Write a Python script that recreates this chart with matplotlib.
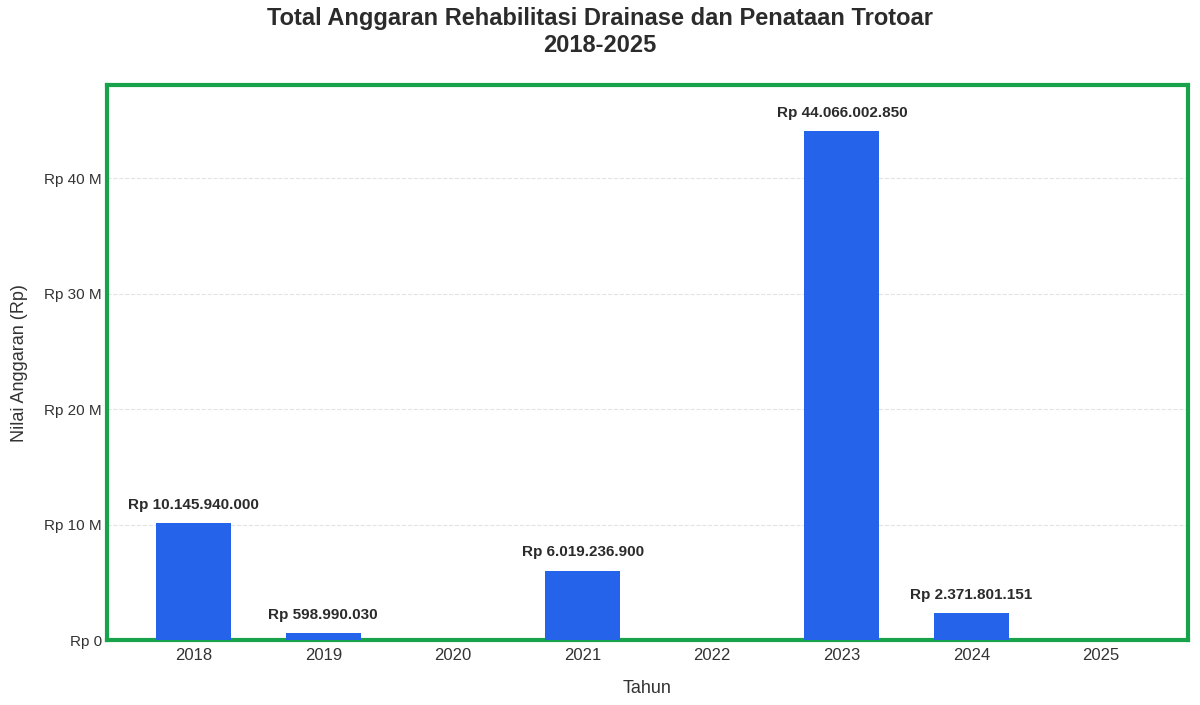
import numpy as np
import matplotlib.pyplot as plt
from matplotlib.ticker import FuncFormatter

plt.rcParams['font.family'] = ['Liberation Sans', 'DejaVu Sans']

tahun = ['2018', '2019', '2020', '2021', '2022', '2023', '2024', '2025']
anggaran = [10145940000, 598990030, 0, 6019236900, 0, 44066002850, 2371801151, 0]


def rupiah(v):
    return 'Rp ' + '{:,.0f}'.format(v).replace(',', '.')


fig = plt.figure(figsize=(12, 7.05), dpi=100)
ax = fig.add_axes([0.089, 0.092, 0.901, 0.787])

x = np.arange(len(tahun))
ax.bar(x, anggaran, width=0.58, color='#2563EB', zorder=3)
for xi, v in zip(x, anggaran):
    if v > 0:
        ax.annotate(rupiah(v), (xi, v), xytext=(0, 8), textcoords='offset points',
                    ha='center', va='bottom', fontsize=11, fontweight='bold', color='#2b2b2b')

ax.set_xlim(-0.67, 7.67)
ax.set_ylim(0, max(anggaran) * 1.09)
ax.set_xticks(x)
ax.set_xticklabels(tahun, fontsize=12, color='#333333')
ax.yaxis.set_major_formatter(FuncFormatter(lambda v, p: 'Rp %d M' % round(v / 1e9) if v else 'Rp 0'))
ax.set_yticks([0, 10e9, 20e9, 30e9, 40e9])
ax.tick_params(axis='y', labelsize=11, colors='#333333', length=0)
ax.tick_params(axis='x', length=0, pad=6)
ax.grid(axis='y', linestyle='--', color='#e3e3e3', linewidth=0.8, zorder=0)
for s in ax.spines.values():
    s.set_color('#16a34a')
    s.set_linewidth(3)

ax.set_xlabel('Tahun', fontsize=13, color='#333333', labelpad=12)
ax.set_ylabel('Nilai Anggaran (Rp)', fontsize=13, color='#333333', labelpad=12)
fig.suptitle('Total Anggaran Rehabilitasi Drainase dan Penataan Trotoar\n2018-2025',
             fontsize=17, fontweight='bold', color='#2b2b2b', y=0.99)

fig.savefig('out.png', dpi=100)
